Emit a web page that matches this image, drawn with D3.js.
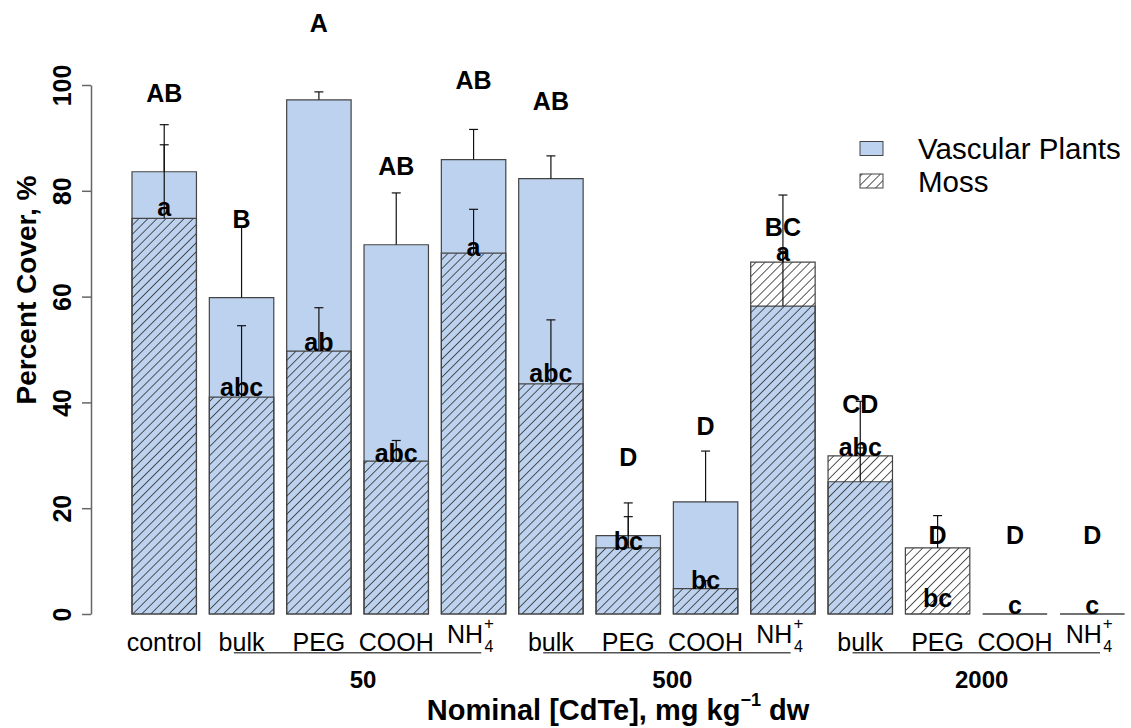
<!DOCTYPE html>
<html>
<head>
<meta charset="utf-8">
<script src="https://cdn.jsdelivr.net/npm/d3@7"></script>
<style>
    body { margin: 0; background: #fff; }
    svg { display: block; font-family: "Liberation Sans", Arial, sans-serif; }
</style>
</head>
<body>
<svg id="chart"></svg>
<script>
let width = 1131;
let height = 728;

// treatments, left to right
let treatments = ["control", "bulk", "PEG", "COOH", "NH4", "bulk", "PEG", "COOH", "NH4", "bulk", "PEG", "COOH", "NH4"];
let doses = ["50", "500", "2000"];
let doseFirst = [1, 5, 9];
let doseLast = [4, 8, 12];

// percent cover
let vascular   = [83.6, 59.8, 97.2, 69.8, 85.9, 82.3, 14.8, 21.2, 58.2, 25.0, 0, 0, 0];
let vascularSE = [8.9, 13.5, 1.5, 9.8, 5.7, 4.3, 6.2, 9.6, 21.0, 15.2, 0, 0, 0];
let moss       = [74.8, 41.0, 49.7, 28.9, 68.2, 43.5, 12.5, 4.8, 66.5, 29.9, 12.5, 0, 0];
let mossSE     = [13.9, 13.5, 8.2, 3.9, 8.3, 12.1, 5.9, 1.5, 2.0, 1.5, 6.1, 0, 0];

// significance letters and the height (in %) where they sit
let upperLetters = ["AB", "B", "A", "AB", "AB", "AB", "D", "D", "BC", "CD", "D", "D", "D"];
let upperAt      = [98.5, 74.7, 111.7, 84.7, 100.9, 97.0, 29.6, 35.6, 73.1, 39.7, 14.9, 14.9, 14.9];
let lowerLetters = ["a", "abc", "ab", "abc", "a", "abc", "bc", "bc", "a", "abc", "bc", "c", "c"];
let lowerAt      = [76.9, 43.0, 51.5, 30.4, 69.4, 45.5, 13.8, 6.4, 68.5, 31.6, 3.0, 1.7, 1.7];

let yTicks = [0, 20, 40, 60, 80, 100];

let blue = "#bcd2ee";
let border = "#444";

let svg = d3.select("#chart")
    .attr("width", width)
    .attr("height", height);

// hatch like R's density lines at 45 degrees
svg.append("defs")
    .append("pattern")
    .attr("id", "hatch")
    .attr("patternUnits", "userSpaceOnUse")
    .attr("width", 6.4)
    .attr("height", 10)
    .attr("patternTransform", "rotate(45)")
    .append("line")
    .attr("x1", 3.2).attr("y1", 0)
    .attr("x2", 3.2).attr("y2", 10)
    .attr("stroke", "#333")
    .attr("stroke-width", 0.85);

let x = d3.scaleBand()
    .domain(d3.range(treatments.length))
    .range([132, 1124.5])
    .paddingInner(1 / 6)
    .paddingOuter(0);
let bw = x.bandwidth();

// centre of bar i, also for fractional i
let xc = d3.scaleLinear()
    .domain([0, treatments.length - 1])
    .range([x(0) + bw / 2, x(treatments.length - 1) + bw / 2]);

let y = d3.scaleLinear()
    .domain([0, 100])
    .range([614, 85]);

function barPath(i, v) {
    let x0 = x(i), x1 = x(i) + bw, y0 = y(0), y1 = y(v);
    return `M${x0},${y0}V${y1}H${x1}V${y0}Z`;
}

// vascular plants first, then moss drawn over them
svg.append("g")
    .selectAll("path")
    .data(vascular)
    .enter()
    .append("path")
    .attr("d", (d, i) => barPath(i, d))
    .attr("fill", blue)
    .attr("stroke", border)
    .attr("stroke-width", 1.2);

svg.append("g")
    .selectAll("path")
    .data(moss)
    .enter()
    .append("path")
    .attr("d", (d, i) => barPath(i, d))
    .attr("fill", "url(#hatch)")
    .attr("stroke", border)
    .attr("stroke-width", 1.2);

function errorBars(means, se) {
    let g = svg.append("g")
        .attr("stroke", "#111")
        .attr("stroke-width", 1.2);
    means.forEach(function (m, i) {
        if (se[i] <= 0) return;
        g.append("line")
            .attr("x1", xc(i)).attr("x2", xc(i))
            .attr("y1", y(m)).attr("y2", y(m + se[i]));
        g.append("line")
            .attr("x1", xc(i) - 4.5).attr("x2", xc(i) + 4.5)
            .attr("y1", y(m + se[i])).attr("y2", y(m + se[i]));
    });
}
errorBars(vascular, vascularSE);
errorBars(moss, mossSE);

function letters(labels, at) {
    svg.append("g")
        .selectAll("text")
        .data(labels)
        .enter()
        .append("text")
        .attr("x", (d, i) => xc(i))
        .attr("y", (d, i) => y(at[i]) + 9)
        .attr("text-anchor", "middle")
        .attr("font-weight", "bold")
        .attr("font-size", 25)
        .attr("fill", "#000")
        .text(d => d);
}
letters(upperLetters, upperAt);
letters(lowerLetters, lowerAt);

// y axis
let axisY = svg.append("g")
    .attr("transform", "translate(91, 0)")
    .call(d3.axisLeft(y).tickValues(yTicks).tickSize(9).tickSizeOuter(0));
axisY.select(".domain").attr("stroke", "#666").attr("stroke-width", 1.5);
axisY.selectAll(".tick line").attr("stroke", "#666").attr("stroke-width", 1.5);
axisY.selectAll(".tick text")
    .attr("x", null).attr("dy", null)
    .attr("transform", "translate(-20, 0) rotate(-90)")
    .attr("text-anchor", "middle")
    .attr("font-family", "Liberation Sans, Arial, sans-serif")
    .attr("font-size", 25)
    .attr("font-weight", "bold")
    .attr("fill", "#000");

svg.append("text")
    .attr("transform", "translate(36, 290) rotate(-90)")
    .attr("text-anchor", "middle")
    .attr("font-size", 28)
    .attr("font-weight", "bold")
    .text("Percent Cover, %");

// treatment names under the bars
treatments.forEach(function (t, i) {
    if (t === "NH4") {
        svg.append("text")
            .attr("x", xc(i) + 9.5).attr("y", 643)
            .attr("text-anchor", "end")
            .attr("font-size", 25)
            .text("NH");
        svg.append("text")
            .attr("x", xc(i) + 11).attr("y", 651.5)
            .attr("font-size", 16)
            .text("4");
        svg.append("text")
            .attr("x", xc(i) + 10.5).attr("y", 629)
            .attr("font-size", 17)
            .text("+");
    } else {
        svg.append("text")
            .attr("x", xc(i)).attr("y", 650.5)
            .attr("text-anchor", "middle")
            .attr("font-size", 25)
            .text(t);
    }
});

// dose groups
doses.forEach(function (d, k) {
    svg.append("line")
        .attr("x1", xc(doseFirst[k] - 0.1)).attr("x2", xc(doseLast[k] + 0.1))
        .attr("y1", 652.7).attr("y2", 652.7)
        .attr("stroke", "#555")
        .attr("stroke-width", 1.5);
    svg.append("text")
        .attr("x", xc((doseFirst[k] + doseLast[k]) / 2 + 0.07))
        .attr("y", 688)
        .attr("text-anchor", "middle")
        .attr("font-size", 24)
        .attr("font-weight", "bold")
        .text(d);
});

let xTitle = svg.append("text")
    .attr("x", 618).attr("y", 720)
    .attr("text-anchor", "middle")
    .attr("font-size", 29)
    .attr("font-weight", "bold");
xTitle.append("tspan").text("Nominal [CdTe], mg kg");
xTitle.append("tspan").attr("dy", -14).attr("font-size", 18).text("\u22121");
xTitle.append("tspan").attr("dy", 14).text(" dw");

// legend
let legendItems = ["Vascular Plants", "Moss"];
let legendFill = [blue, "url(#hatch)"];
let legendY = [148.5, 181];
let legend = svg.append("g");
legendItems.forEach(function (name, k) {
    legend.append("rect")
        .attr("x", 860).attr("y", legendY[k] - 7)
        .attr("width", 23).attr("height", 14)
        .attr("fill", legendFill[k])
        .attr("stroke", border)
        .attr("stroke-width", 1);
    legend.append("text")
        .attr("x", 918).attr("y", legendY[k])
        .attr("dominant-baseline", "central")
        .attr("font-size", 29.5)
        .text(name);
});
</script>
</body>
</html>
